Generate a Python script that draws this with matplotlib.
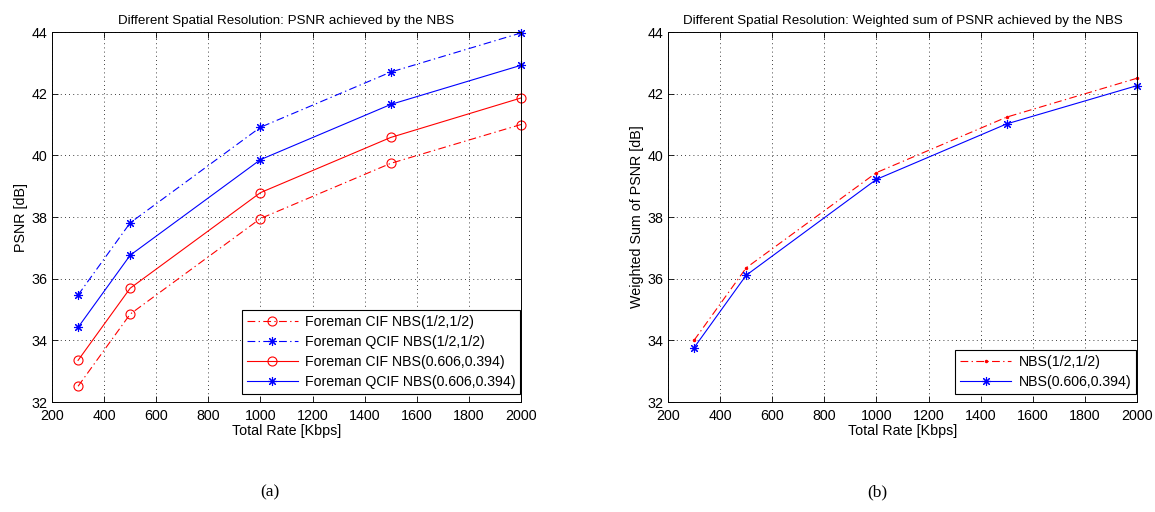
"""Two-panel PSNR vs. total rate figure (NBS, different spatial resolution)."""

import matplotlib

matplotlib.use("Agg")
import matplotlib.pyplot as plt

plt.rcParams["font.family"] = ["Liberation Sans", "DejaVu Sans"]

rates = [300, 500, 1000, 1500, 2000]

# panel (a)
cif_half = [32.51, 34.85, 37.95, 39.74, 41.00]
qcif_half = [35.47, 37.81, 40.91, 42.70, 43.97]
cif_nbs = [33.35, 35.69, 38.79, 40.58, 41.86]
qcif_nbs = [34.42, 36.76, 39.86, 41.65, 42.92]

# panel (b)
wsum_half = [34.00, 36.35, 39.44, 41.24, 42.50]
wsum_nbs = [33.76, 36.11, 39.22, 41.02, 42.26]

xticks = list(range(200, 2001, 200))
yticks = list(range(32, 45, 2))

ASTERISK = (8, 2, 0)
DASHDOT = (0, (7, 3, 1.2, 3))
CIRCLE = dict(marker="o", markersize=6.5, markerfacecolor="none", markeredgewidth=0.8)
STAR = dict(marker=ASTERISK, markersize=6.5, markeredgewidth=0.8)


def _style_axes(ax, ylabel, title):
    ax.set_xlim(200, 2000)
    ax.set_ylim(32, 44)
    ax.set_xticks(xticks)
    ax.set_yticks(yticks)
    ax.tick_params(direction="in", top=True, right=True, labelsize=10.3,
                   length=4, width=0.6)
    ax.tick_params(axis="x", pad=5)
    ax.tick_params(axis="y", pad=3)
    ax.grid(True, color="black", linestyle=(0, (1, 4)), linewidth=0.6)
    for sp in ax.spines.values():
        sp.set_linewidth(0.7)
    ax.set_xlabel("Total Rate [Kbps]", fontsize=10.3, labelpad=1)
    ax.set_ylabel(ylabel, fontsize=10.3, labelpad=3)
    ax.set_title(title, fontsize=9.6, pad=6)


def _legend(ax):
    leg = ax.legend(loc="lower right", bbox_to_anchor=(0.998, 0.022), fontsize=10.2,
                    fancybox=False, framealpha=1, edgecolor="black",
                    handlelength=3.6, borderpad=0.35, labelspacing=0.42,
                    handletextpad=0.5, borderaxespad=0)
    leg.get_frame().set_linewidth(0.8)
    return leg


fig = plt.figure(figsize=(11.55, 5.12), dpi=100)
ax1 = fig.add_axes([0.04502, 0.21484, 0.40606, 0.72266])
ax2 = fig.add_axes([0.57835, 0.21484, 0.40606, 0.72266])

ax1.plot(rates, cif_half, color="red", linestyle=DASHDOT, linewidth=0.8,
         clip_on=False, label="Foreman CIF NBS(1/2,1/2)", **CIRCLE)
ax1.plot(rates, qcif_half, color="blue", linestyle=DASHDOT, linewidth=0.8,
         clip_on=False, label="Foreman QCIF NBS(1/2,1/2)", **STAR)
ax1.plot(rates, cif_nbs, color="red", linestyle="-", linewidth=0.8,
         clip_on=False, label="Foreman CIF NBS(0.606,0.394)", **CIRCLE)
ax1.plot(rates, qcif_nbs, color="blue", linestyle="-", linewidth=0.8,
         clip_on=False, label="Foreman QCIF NBS(0.606,0.394)", **STAR)
_style_axes(ax1, "PSNR [dB]",
            "Different Spatial Resolution: PSNR achieved by the NBS")
_legend(ax1)

ax2.plot(rates, wsum_half, color="red", linestyle=DASHDOT, linewidth=0.8,
         marker=".", markersize=3, clip_on=False, label="NBS(1/2,1/2)")
ax2.plot(rates, wsum_nbs, color="blue", linestyle="-", linewidth=0.8,
         clip_on=False, label="NBS(0.606,0.394)", **STAR)
_style_axes(ax2, "Weighted Sum of PSNR [dB]",
            "Different Spatial Resolution: Weighted sum of PSNR achieved by the NBS")
_legend(ax2)

fig.text(270 / 1155, 1 - 492 / 512, "(a)", ha="center", va="center",
         fontsize=12.5, family=["Liberation Serif", "DejaVu Serif"])
fig.text(877 / 1155, 1 - 492 / 512, "(b)", ha="center", va="center",
         fontsize=12.5, family=["Liberation Serif", "DejaVu Serif"])

fig.savefig("out.png", dpi=100)
plt.close(fig)
